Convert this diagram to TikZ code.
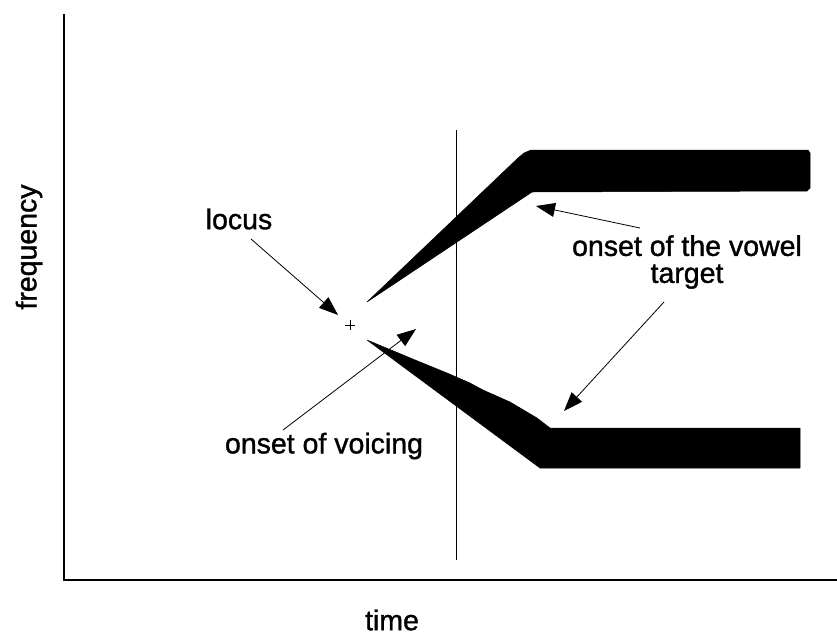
\documentclass[tikz,border=0pt]{standalone}
\usepackage{fontspec}
\setmainfont{Liberation Sans}
\newfontfamily\lblfont{Liberation Sans}[FakeBold=1.2]
\usetikzlibrary{arrows.meta}
\begin{document}
\begin{tikzpicture}[x=1pt,y=-1pt,
  lbl/.style={font=\lblfont\fontsize{28.5}{31}\selectfont, inner sep=0pt, align=center},
  axis/.style={line width=1.1pt},
  pointer/.style={line width=0.8pt, -{Triangle[length=19pt,width=14pt]}},
  formant/.style={fill=black, draw=black, line width=0.5pt, line join=round}]
\useasboundingbox[fill=white] (0,0) rectangle (837,635);
% axes
\coordinate (origin) at (64,580);
\coordinate (ytop) at (64,14);
\coordinate (xend) at (837,580);
\draw[axis] (ytop) -- (origin) -- (xend);
% vertical time marker
\coordinate (vtop) at (456,130);
\coordinate (vbot) at (456,560);
\draw[line width=0.9pt] (vtop) -- (vbot);
% formants
\fill[formant] (367,302) -- (518,158) -- (524,153) -- (531,150) -- (808,150) -- (810,153) -- (810,188) -- (807,191) -- (532,192) -- cycle;
\fill[formant] (367,340) -- (420,362) -- (447,373) -- (470,383) -- (483,390) -- (510,402) -- (537,418) -- (550,428) -- (800,428) -- (800,468) -- (540,468) -- cycle;
% locus marker
\coordinate (plusC) at (350,325);
\draw[line width=0.8pt] ([xshift=-5pt]plusC) -- ([xshift=5pt]plusC);
\draw[line width=0.8pt] ([yshift=-5pt]plusC) -- ([yshift=5pt]plusC);
% labels
\node[lbl] (locus) at (239,219) {locus};
\node[lbl] (voicing) at (324,446) {onset of voicing};
\node[lbl] (vowel) at (687,262) {onset of the vowel\\[-4pt]target};
\node[lbl, rotate=90] (freq) at (29,247) {frequency};
\node[lbl] (time) at (392,620) {time};
% pointers
\coordinate (locusA) at (251,239);
\coordinate (locusB) at (338,315);
\draw[pointer] (locusA) -- (locusB);
\coordinate (voiceA) at (283,430);
\coordinate (voiceB) at (416,329);
\draw[pointer] (voiceA) -- (voiceB);
\coordinate (vowA) at (640,228);
\coordinate (vowB) at (536,206);
\draw[pointer] (vowA) -- (vowB);
\coordinate (vowC) at (664,302);
\coordinate (vowD) at (564,411);
\draw[pointer] (vowC) -- (vowD);
\end{tikzpicture}
\end{document}
